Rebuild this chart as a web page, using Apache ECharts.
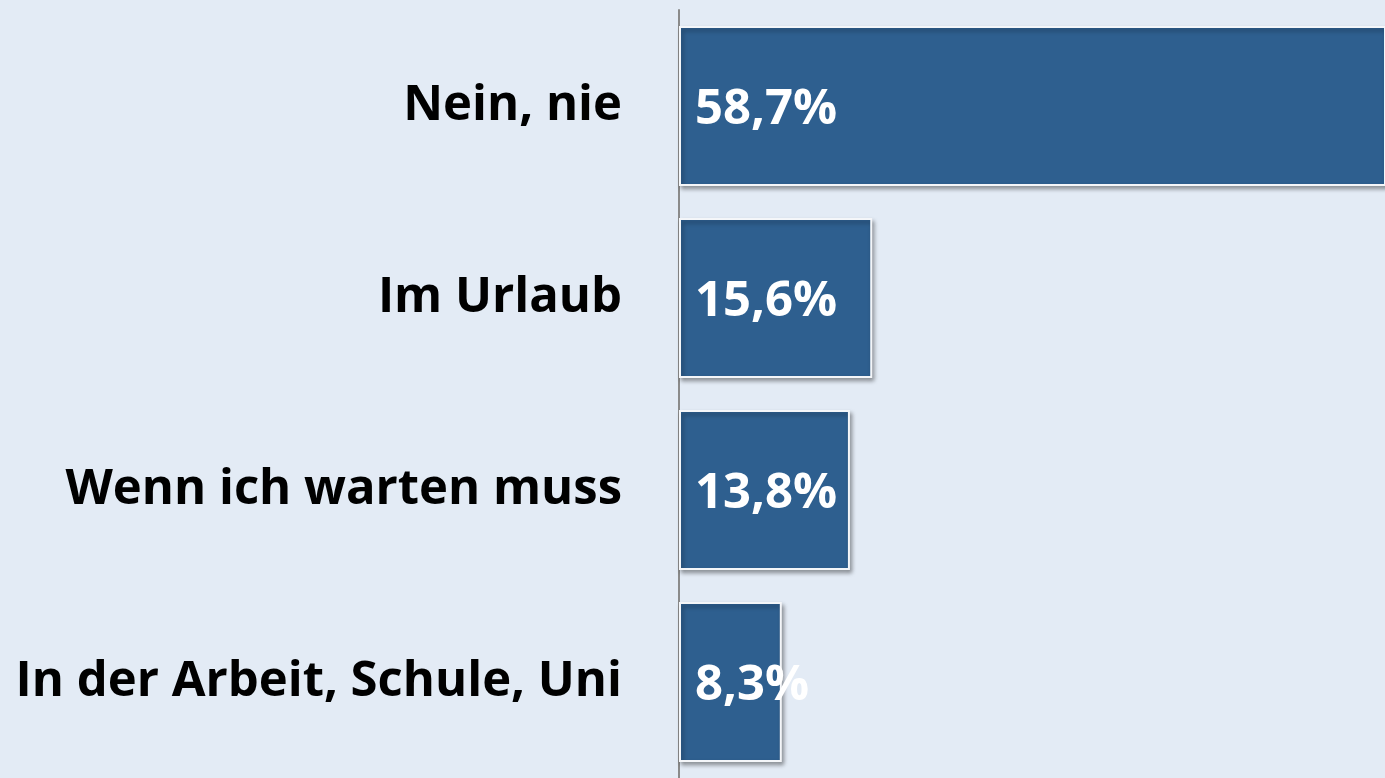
<!DOCTYPE html>
<html>
<head>
<meta charset="utf-8">
<style>
  html, body { margin: 0; padding: 0; background: #e3ebf5; }
  #chart { width: 1385px; height: 778px; }
</style>
<script src="https://cdn.jsdelivr.net/npm/echarts@6/dist/echarts.min.js"></script>
</head>
<body>
<div id="chart"></div>
<script>
const categories = ['Nein, nie', 'Im Urlaub', 'Wenn ich warten muss', 'In der Arbeit, Schule, Uni']
const shares = [58.7, 15.6, 13.8, 8.3]

const chart = echarts.init(document.getElementById('chart'))
chart.setOption({
  backgroundColor: '#e3ebf5',
  animation: false,
  grid: { left: 679, right: 0, top: 10, bottom: -6 },
  xAxis: {
    type: 'value',
    min: 0,
    max: 57,
    show: false
  },
  yAxis: {
    type: 'category',
    inverse: true,
    data: categories,
    axisLine: { show: true, lineStyle: { color: '#8a8a8a', width: 2 } },
    axisTick: { show: false },
    axisLabel: {
      margin: 57,
      padding: [8, 0, 0, 0],
      color: '#000',
      fontFamily: 'Open Sans',
      fontWeight: 'bold',
      fontSize: 49
    }
  },
  series: [{
    type: 'bar',
    data: shares,
    barWidth: 160,
    clip: true,
    itemStyle: {
      color: '#2e5f8f',
      borderColor: '#f4f6f9',
      borderWidth: 2,
      shadowColor: 'rgba(0,0,0,0.35)',
      shadowBlur: 4,
      shadowOffsetX: 2,
      shadowOffsetY: 3
    },
    label: {
      show: true,
      position: 'insideLeft',
      distance: 16,
      offset: [0, 4],
      color: '#fff',
      fontFamily: 'Open Sans',
      fontWeight: 'bold',
      fontSize: 49,
      formatter: p => String(p.value).replace('.', ',') + '%'
    }
  }]
})
</script>
</body>
</html>
